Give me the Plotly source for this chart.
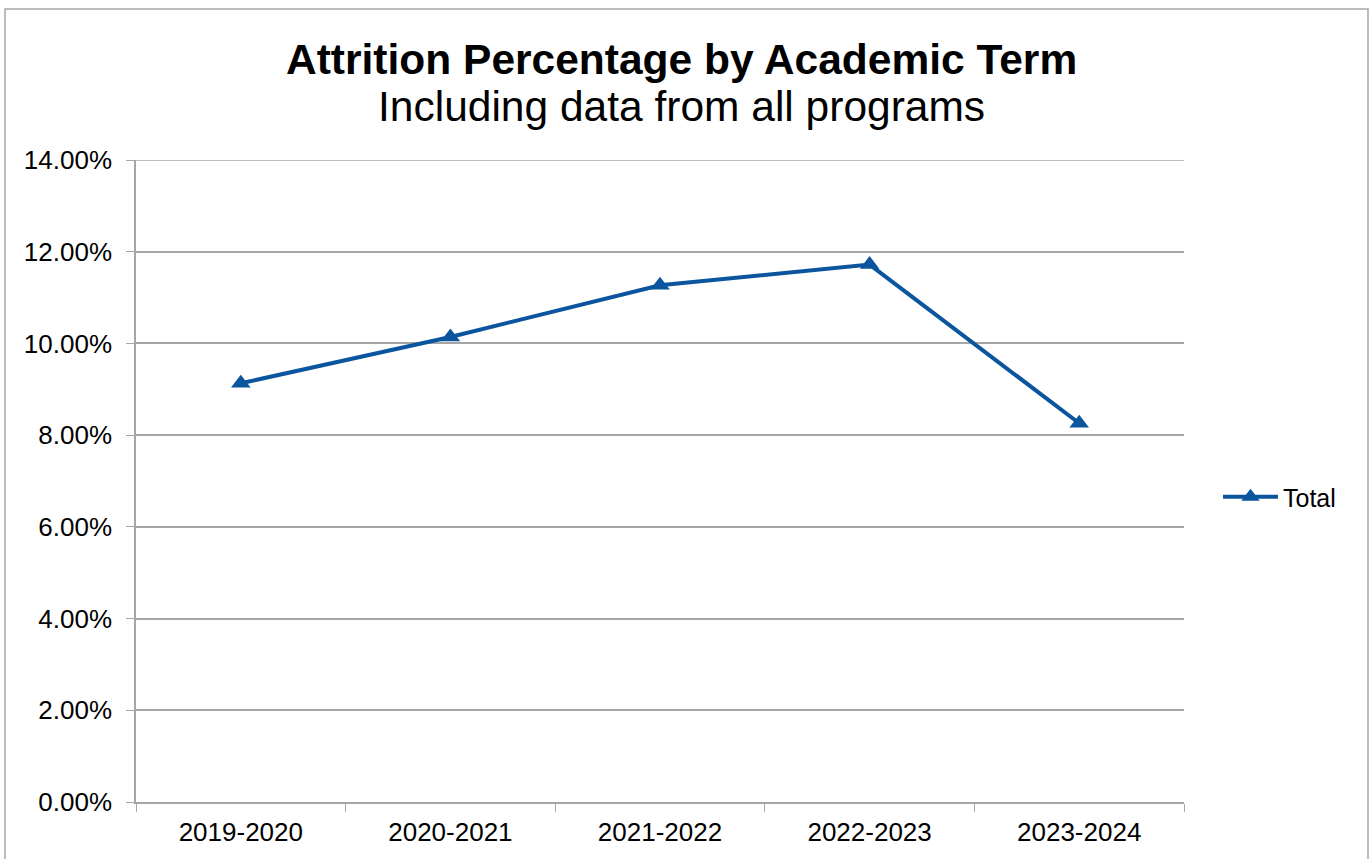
"""
Attrition percentage by academic term (line chart, Excel-like look).
"""

import plotly.graph_objects as go

# ---------------------------------------------------------------------
# Data
# ---------------------------------------------------------------------
terminos = ["2019-2020", "2020-2021", "2021-2022", "2022-2023", "2023-2024"]
total = [0.0913, 0.1014, 0.1127, 0.1172, 0.0826]
y_max = 0.14

_AZUL = "#0B559F"
_GRIS = "#A6A6A6"
_TXT = "#000000"
_FONT = "Liberation Sans, Arial, sans-serif"

# plot area in px (used only to place the annotations / frame)
_L, _R, _T, _B = 136, 1184, 160, 802
_W, _H = 1372, 859


def _px_x(px):
    return (px - _L) / (_R - _L)


def _px_y(py):
    return (_B - py) / (_B - _T)


fig = go.Figure(
    go.Scatter(
        x=terminos,
        y=total,
        mode="lines+markers",
        name="Total",
        line=dict(color=_AZUL, width=4),
        marker=dict(symbol="triangle-up", size=17, color=_AZUL),
    )
)

fig.update_layout(
    width=_W,
    height=_H,
    paper_bgcolor="white",
    plot_bgcolor="white",
    font=dict(family=_FONT, color=_TXT, size=26),
    margin=dict(l=_L, r=_W - _R, t=_T, b=_H - _B),
    showlegend=True,
    legend=dict(
        x=_px_x(1218), xanchor="left",
        y=_px_y(497), yanchor="middle",
        font=dict(size=25, color=_TXT),
        bgcolor="rgba(0,0,0,0)",
        itemwidth=55,
    ),
)

fig.update_xaxes(
    type="category",
    range=[-0.5, 4.5],
    showgrid=False,
    showline=True,
    linecolor=_GRIS,
    linewidth=1.5,
    ticks="outside",
    ticklen=8,
    tickcolor=_GRIS,
    tickson="boundaries",
    tickfont=dict(size=26, color=_TXT),
    ticklabelstandoff=6,
)
fig.update_yaxes(
    range=[0, y_max],
    tick0=0,
    dtick=0.02,
    tickformat=".2%",
    showgrid=True,
    gridcolor=_GRIS,
    gridwidth=1.5,
    zeroline=False,
    showline=True,
    linecolor=_GRIS,
    linewidth=1.5,
    ticks="outside",
    ticklen=8,
    tickcolor=_GRIS,
    tickfont=dict(size=26, color=_TXT),
    ticklabelstandoff=9,
)

# línea de grilla superior (plotly no la dibuja en el borde del rango)
fig.add_shape(
    type="line",
    xref="paper", yref="y",
    x0=0, x1=1, y0=y_max, y1=y_max,
    line=dict(color=_GRIS, width=1.5),
    layer="below",
)

# Title + subtitle
fig.add_annotation(
    text="<b>Attrition Percentage by Academic Term</b>",
    xref="paper", yref="paper",
    x=_px_x(681), y=_px_y(60),
    xanchor="center", yanchor="middle",
    showarrow=False,
    font=dict(size=42.5, color=_TXT, family=_FONT),
)
fig.add_annotation(
    text="Including data from all programs",
    xref="paper", yref="paper",
    x=_px_x(681), y=_px_y(106),
    xanchor="center", yanchor="middle",
    showarrow=False,
    font=dict(size=42.5, color=_TXT, family=_FONT),
)

# Chart frame
fig.add_shape(
    type="rect",
    xref="paper", yref="paper",
    x0=_px_x(5), x1=_px_x(1368),
    y0=_px_y(870), y1=_px_y(9),
    line=dict(color=_GRIS, width=1.5),
    fillcolor="rgba(0,0,0,0)",
    layer="below",
)

# sin margen del body para que la figura quede en (0, 0)
fig.write_html(
    "out.html",
    config={"displayModeBar": False},
    post_script="document.body.style.margin='0';document.body.style.overflow='hidden';",
)
